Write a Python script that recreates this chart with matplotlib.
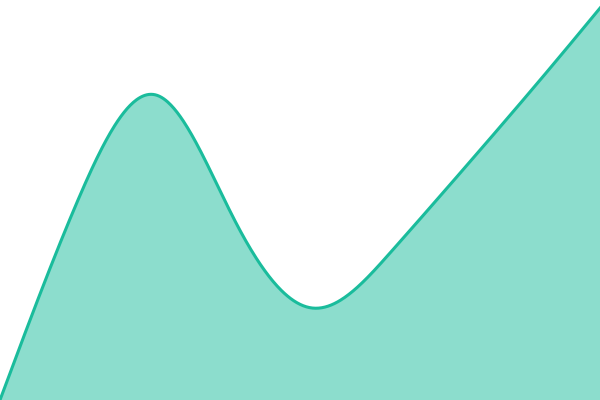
import numpy as np
import matplotlib
matplotlib.use("Agg")
import matplotlib.pyplot as plt

# values at even steps (x 0..624, y 0..400)
x_pts = [0, 78, 156, 234, 312, 390, 468, 546, 624]
y_pts = [0, 200, 305, 181, 92, 147, 236, 327, 421]

LINE = "#1abc9c"


def natural_spline(xs, ys, n=600):
    xs = np.asarray(xs, float)
    ys = np.asarray(ys, float)
    k = len(xs)
    h = np.diff(xs)
    A = np.zeros((k, k))
    r = np.zeros(k)
    A[0, 0] = A[-1, -1] = 1
    for i in range(1, k - 1):
        A[i, i - 1] = h[i - 1]
        A[i, i] = 2 * (h[i - 1] + h[i])
        A[i, i + 1] = h[i]
        r[i] = 6 * ((ys[i + 1] - ys[i]) / h[i] - (ys[i] - ys[i - 1]) / h[i - 1])
    M = np.linalg.solve(A, r)
    xx = np.linspace(xs[0], xs[-1], n)
    idx = np.clip(np.searchsorted(xs, xx) - 1, 0, k - 2)
    x0, x1 = xs[idx], xs[idx + 1]
    hh = x1 - x0
    a = (x1 - xx) / hh
    b = (xx - x0) / hh
    yy = (a * ys[idx] + b * ys[idx + 1]
          + ((a**3 - a) * M[idx] + (b**3 - b) * M[idx + 1]) * hh**2 / 6)
    return xx, yy


xs, ys = natural_spline(x_pts, y_pts)

fig = plt.figure(figsize=(6, 4), dpi=100)
ax = fig.add_axes([0, 0, 1, 1])
ax.fill_between(xs, ys, 0, color=LINE, alpha=0.5, linewidth=0)
ax.plot(xs, ys, color=LINE, linewidth=2.2, solid_capstyle="round")
ax.set_xlim(0, 600)
ax.set_ylim(0, 400)
ax.axis("off")
fig.savefig("out.png", dpi=100)
